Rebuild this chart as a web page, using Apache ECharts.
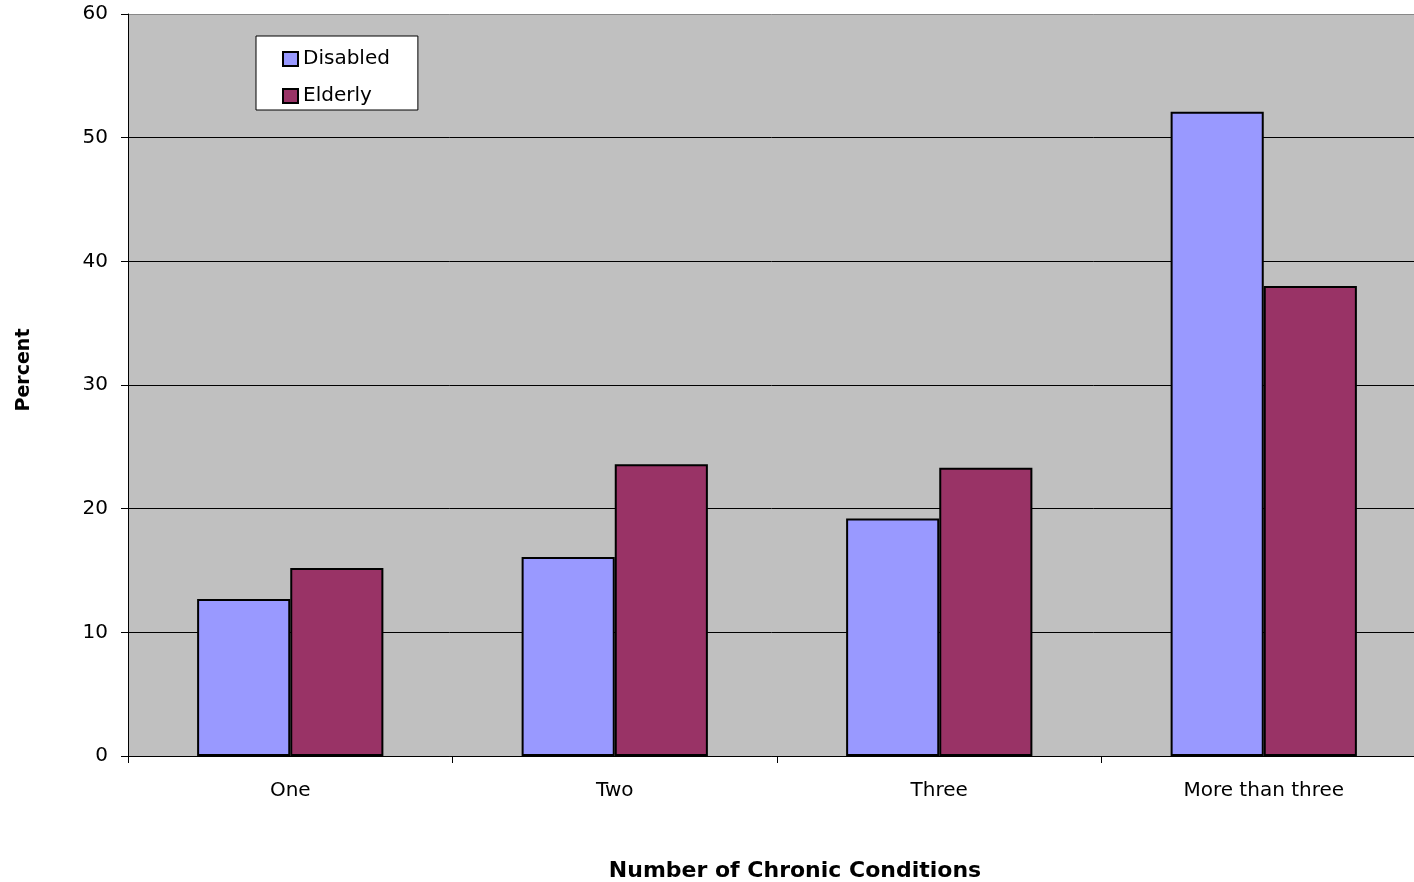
<!DOCTYPE html>
<html>
<head>
<meta charset="utf-8">
<script src="https://cdn.jsdelivr.net/npm/echarts@6/dist/echarts.min.js"></script>
<style>
  html, body { margin: 0; padding: 0; background: #fff; }
  #chart { width: 1414px; height: 882px; }
</style>
</head>
<body>
<div id="chart"></div>
<script>
// Share of beneficiaries by number of chronic conditions
const categories = ['One', 'Two', 'Three', 'More than three'];
const disabled = [12.7, 16.1, 19.2, 52.1];
const elderly = [15.2, 23.6, 23.3, 38.0];
const seriesNames = ['Disabled', 'Elderly'];
const yTicks = { min: 0, max: 60, interval: 10 };

const FONT = 'DejaVu Sans';
const chart = echarts.init(document.getElementById('chart'), null, { renderer: 'canvas' });

chart.setOption({
  animation: false,
  backgroundColor: '#ffffff',
  textStyle: { fontFamily: FONT, color: '#000' },
  grid: {
    left: 128, top: 14, width: 1298, height: 742,
    outerBoundsMode: 'none',
    containLabel: false,
    show: true, backgroundColor: '#c0c0c0', borderWidth: 0
  },
  legend: {
    orient: 'vertical',
    left: 256, top: 36,
    padding: [13, 28, 4, 26],
    backgroundColor: '#ffffff',
    borderColor: '#000', borderWidth: 1,
    itemWidth: 15, itemHeight: 14, itemGap: 17,
    textStyle: { fontFamily: FONT, fontSize: 20, color: '#000' },
    data: seriesNames.map(n => ({ name: n, icon: 'rect', itemStyle: { borderColor: '#000', borderWidth: 2 } }))
  },
  xAxis: {
    type: 'category',
    data: categories,
    name: 'Number of Chronic Conditions',
    nameLocation: 'middle',
    nameGap: 104,
    nameTextStyle: { fontFamily: FONT, fontSize: 22, fontWeight: 'bold', color: '#000', padding: [0, 0, 0, 36] },
    axisLine: { lineStyle: { color: '#000', width: 1 } },
    axisTick: { show: true, length: 7, lineStyle: { color: '#000' } },
    axisLabel: { fontFamily: FONT, fontSize: 20, color: '#000', margin: 25 },
    splitLine: { show: false }
  },
  yAxis: {
    type: 'value',
    min: yTicks.min, max: yTicks.max, interval: yTicks.interval,
    name: 'Percent',
    nameLocation: 'middle',
    nameRotate: 90,
    nameGap: 94,
    nameTextStyle: { fontFamily: FONT, fontSize: 19, fontWeight: 'bold', color: '#000', padding: [0, 0, 0, 30] },
    axisLine: { show: true, lineStyle: { color: '#000', width: 1 } },
    axisTick: { show: true, length: 7, lineStyle: { color: '#000' } },
    axisLabel: { fontFamily: FONT, fontSize: 20, color: '#000', margin: 20, padding: [6, 0, 0, 0] },
    splitLine: {
      show: true,
      lineStyle: { width: 1, color: ['#000', '#000', '#000', '#000', '#000', '#000', '#888'] }
    }
  },
  series: [
    {
      name: seriesNames[0], type: 'bar', data: disabled,
      barWidth: '28.7%', barGap: '0%',
      itemStyle: { color: '#9999ff', borderColor: '#000', borderWidth: 2 }
    },
    {
      name: seriesNames[1], type: 'bar', data: elderly,
      barWidth: '28.7%', barGap: '0%',
      itemStyle: { color: '#993366', borderColor: '#000', borderWidth: 2 }
    }
  ]
});
</script>
</body>
</html>
